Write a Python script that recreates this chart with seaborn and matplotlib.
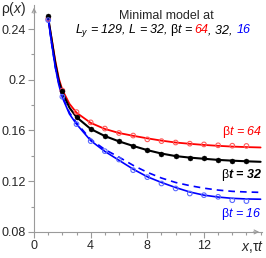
import numpy as np
import pandas as pd
import seaborn as sns
import matplotlib.pyplot as plt
from matplotlib.offsetbox import TextArea, HPacker, AnchoredOffsetbox
from matplotlib.ticker import MultipleLocator

# simulation points (x = 1..15)
x_pts = [1, 2, 3, 4, 5, 6, 7, 8, 9, 10, 11, 12, 13, 14, 15]
rho_64 = [0.248, 0.1915, 0.1745, 0.1664, 0.1615, 0.1580, 0.1560, 0.1530,
          0.1516, 0.1505, 0.1496, 0.1490, 0.1483, 0.1480, 0.1478]
rho_32 = [0.250, 0.1915, 0.1705, 0.1610, 0.1558, 0.1516, 0.1477, 0.1443,
          0.1413, 0.1395, 0.1385, 0.1380, 0.1368, 0.1362, 0.1358]
rho_16 = [0.247, 0.1866, 0.1650, 0.1516, 0.1437, 0.1371, 0.1287, 0.1232,
          0.1182, 0.1143, 0.1103, 0.1090, 0.1077, 0.1050, 0.1043]

# theory curves
x_curve = [1, 1.25, 1.5, 1.75, 2, 2.5, 3, 4, 5, 6, 7, 8, 9, 10, 11, 12, 13, 14, 15, 16]
curve_64 = [0.248, 0.232, 0.215, 0.201, 0.192, 0.181, 0.1740, 0.1660, 0.1612, 0.1580,
            0.1558, 0.1538, 0.1520, 0.1505, 0.1495, 0.1486, 0.1479, 0.1473, 0.1469, 0.1466]
curve_32 = [0.249, 0.231, 0.213, 0.199, 0.190, 0.178, 0.1705, 0.1612, 0.1556, 0.1514,
            0.1478, 0.1445, 0.1418, 0.1398, 0.1386, 0.1377, 0.1368, 0.1362, 0.1357, 0.1353]
curve_16 = [0.248, 0.228, 0.210, 0.196, 0.186, 0.173, 0.1650, 0.1520, 0.1435, 0.1365,
            0.1295, 0.1235, 0.1190, 0.1150, 0.1115, 0.1090, 0.1075, 0.1065, 0.1060, 0.1058]
curve_16_dash = [0.248, 0.228, 0.210, 0.197, 0.187, 0.174, 0.1660, 0.1530, 0.1450, 0.1390,
                 0.1325, 0.1270, 0.1225, 0.1190, 0.1165, 0.1145, 0.1130, 0.1120, 0.1115, 0.1112]

sns.set_theme(style="ticks")
plt.rcParams['font.family'] = ['Liberation Sans', 'DejaVu Sans']
plt.rcParams['mathtext.fontset'] = 'custom'
plt.rcParams['mathtext.rm'] = 'Liberation Sans'
plt.rcParams['mathtext.it'] = 'Liberation Sans:italic'
plt.rcParams['mathtext.bf'] = 'Liberation Sans:bold:italic'

gray = '#9a9a9a'
fig = plt.figure(figsize=(2.66, 2.58), dpi=100)
ax = fig.add_axes([0.128, 0.101, 0.857, 0.88])

sns.lineplot(x=x_curve, y=curve_64, color='#ff0000', lw=1.3, ax=ax)
sns.lineplot(x=x_curve, y=curve_32, color='black', lw=1.5, ax=ax)
sns.lineplot(x=x_curve, y=curve_16, color='#0000ff', lw=1.2, ax=ax)
ax.plot(x_curve, curve_16_dash, color='#0000ff', lw=1.2, ls=(0, (4, 3)))

sns.scatterplot(x=x_pts, y=rho_64, marker='o', s=11, facecolors='none',
                edgecolor='#ff5a5a', linewidth=0.8, ax=ax, zorder=5)
sns.scatterplot(x=x_pts, y=rho_32, marker='o', s=13, color='black',
                edgecolor='black', ax=ax, zorder=5)
sns.scatterplot(x=x_pts, y=rho_16, marker='o', s=11, facecolors='none',
                edgecolor='#5a6aff', linewidth=0.8, ax=ax, zorder=5)

ax.set_xlim(0, 16.1)
ax.set_ylim(0.08, 0.259)
ax.xaxis.set_minor_locator(MultipleLocator(1))
ax.yaxis.set_minor_locator(MultipleLocator(0.02))
ax.set_xticks([0, 4, 8, 12])
ax.set_xticklabels(['0', '4', '8', '12'])
ax.set_yticks([0.08, 0.12, 0.16, 0.2, 0.24])
ax.set_yticklabels(['0.08', '0.12', '0.16', '0.2', '0.24'])
ax.tick_params(which='major', direction='out', length=4, width=0.8, color=gray,
               labelsize=9, pad=2)
ax.tick_params(which='minor', direction='out', length=2.5, width=0.8, color=gray)
sns.despine(ax=ax)
for side in ['left', 'bottom']:
    ax.spines[side].set_color(gray)
    ax.spines[side].set_linewidth(0.8)
ax.set_xlabel('')
ax.set_ylabel('')

# arrow heads on the axes
ax.annotate('', xy=(1.0, 0), xytext=(0.95, 0), xycoords='axes fraction',
            arrowprops=dict(arrowstyle='->', color=gray, lw=0.8, mutation_scale=7))
ax.annotate('', xy=(0, 1.0), xytext=(0, 0.95), xycoords='axes fraction',
            arrowprops=dict(arrowstyle='->', color=gray, lw=0.8, mutation_scale=7))

fs = 9
fig.text(0.005, 0.95, r'$\mathrm{\rho}$($x$)', fontsize=10)
fig.text(0.995, 0.027, r'$x$,$\mathrm{\tau}t$', fontsize=10, ha='right')

fig.text(0.626, 0.926, 'Minimal model at', fontsize=fs, ha='center', va='baseline')
parts = [(r'$L_y$ = 129, $L$ = 32, $\mathrm{\beta}t$ = ', 'black'),
         ('64', '#ff0000'), (', 32, ', 'black'), ('16', '#0000ff')]
boxes = [TextArea(s, textprops=dict(color=c, style='italic', fontsize=fs))
         for s, c in parts]
pack = HPacker(children=boxes, align='baseline', pad=0, sep=0)
anch = AnchoredOffsetbox(loc='center', child=pack, frameon=False, pad=0,
                         bbox_to_anchor=(0.612, 0.88), bbox_transform=fig.transFigure)
fig.add_artist(anch)

fig.text(0.985, (258 - 135) / 258, r'$\mathrm{\beta}t$ = 64', color='#ff0000',
         fontsize=fs, style='italic', ha='right', va='baseline')
fig.text(0.985, (258 - 178) / 258, r'$\mathrm{\beta}\mathbf{t}$ = 32', color='black',
         fontsize=fs, style='italic', weight='bold', ha='right', va='baseline')
fig.text(0.985, (258 - 217) / 258, r'$\mathrm{\beta}t$ = 16', color='#0000ff',
         fontsize=fs, style='italic', ha='right', va='baseline')

fig.savefig('out.png', dpi=100)
